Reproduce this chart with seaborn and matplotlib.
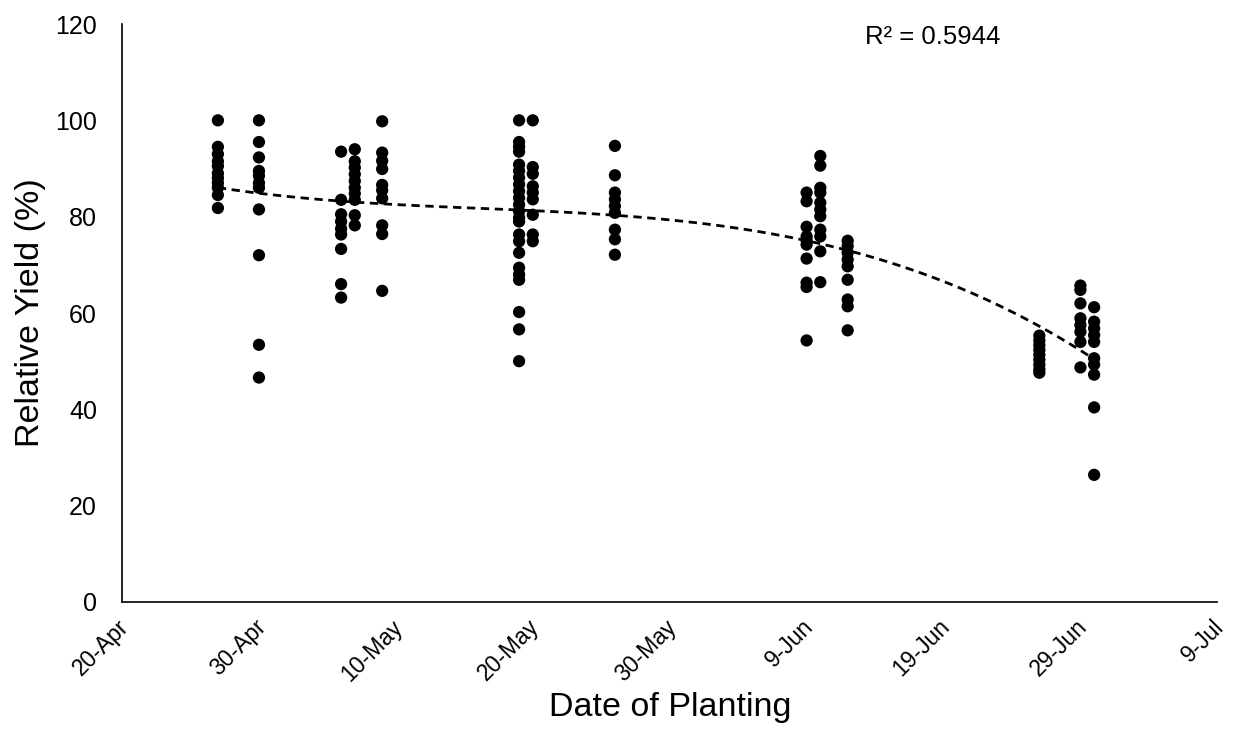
import numpy as np
import pandas as pd
import matplotlib
matplotlib.use("Agg")
import matplotlib.pyplot as plt
import matplotlib.transforms as mtransforms
import seaborn as sns

# Planting dates as day-of-year (20-Apr = 110)
tick_days = [110, 120, 130, 140, 150, 160, 170, 180, 190]
tick_labels = ["20-Apr", "30-Apr", "10-May", "20-May", "30-May", "9-Jun", "19-Jun", "29-Jun", "9-Jul"]

d117 = [100, 94.5, 93, 91.5, 90.5, 89, 88, 87, 86, 84.5, 81.8]
d120 = [100, 95.5, 92.3, 89.5, 88.5, 87, 86, 81.5, 72, 53.4, 46.6]
d126 = [93.5, 83.5, 80.5, 79, 77.5, 76.3, 73.3, 66, 63.2]
d127 = [94, 91.5, 90.2, 88.8, 87.4, 86, 84.8, 83.5, 80.3, 78.2]
d129 = [99.8, 93.3, 91.6, 89.9, 86.6, 85.5, 83.8, 78.2, 76.4, 64.6]
d139 = [100, 95.5, 94.5, 93.5, 90.8, 89.5, 88.1, 86.7, 85.3, 83.9, 82.5, 81.1,
        79.8, 79, 76.3, 74.9, 72.5, 69.4, 68.0, 66.9, 60.2, 56.6, 50]
d140 = [100, 90.3, 88.9, 86.3, 85, 83.6, 80.4, 76.3, 74.9]
d146 = [94.7, 88.6, 85, 83.6, 82.2, 80.8, 77.3, 75.3, 72.1]
d160 = [85, 83.2, 77.9, 75.9, 75.1, 74.2, 71.3, 66.3, 65.4, 54.3]
d161 = [92.6, 90.6, 86, 85, 82.9, 81.5, 80.1, 77.3, 75.9, 72.8, 66.4]
d163 = [75, 73.9, 72.5, 71.1, 69.7, 66.9, 62.8, 61.4, 56.4]
d177 = [55.3, 54.3, 53.3, 52.3, 51.3, 50.3, 49.3, 48.3, 47.6]
d180 = [65.7, 64.8, 62, 58.9, 57.5, 56.1, 54, 48.7]
d181 = [61.2, 58.2, 56.8, 55.4, 54, 50.6, 49.3, 47.2, 40.4, 26.4]

groups = {117: d117, 120: d120, 126: d126, 127: d127, 129: d129, 139: d139,
          140: d140, 146: d146, 160: d160, 161: d161, 163: d163, 177: d177,
          180: d180, 181: d181}

rows = [(day, v) for day, vals in groups.items() for v in vals]
df = pd.DataFrame(rows, columns=["day", "yield"])

sns.set_theme(style="white")
plt.rcParams['font.family'] = ['Liberation Sans', 'DejaVu Sans']

fig = plt.figure(figsize=(12.34, 7.32), dpi=100)
ax = fig.add_axes([0.0989, 0.1776, 0.8876, 0.7896])

sns.scatterplot(data=df, x="day", y="yield", color="black", s=78,
                edgecolor="none", ax=ax, zorder=2)
sns.regplot(data=df, x="day", y="yield", order=3, ci=None, scatter=False, ax=ax,
            line_kws=dict(color="black", lw=2, ls=(0, (3, 2)), zorder=3))

ax.set_xlim(110, 190)
ax.set_ylim(0, 120)
ax.set_xticks(tick_days)
ax.set_xticklabels(tick_labels, rotation=45, ha="right", rotation_mode="anchor")
ax.set_yticks(range(0, 121, 20))
ax.tick_params(axis="both", length=0, colors="black")
ax.tick_params(axis="y", pad=18, labelsize=18)
ax.tick_params(axis="x", pad=11, labelsize=16.5)

offset = mtransforms.ScaledTranslation(-5 / 100, 2 / 100, fig.dpi_scale_trans)
for lbl in ax.get_xticklabels():
    lbl.set_transform(lbl.get_transform() + offset)

for s in ["top", "right"]:
    ax.spines[s].set_visible(False)
for s in ["left", "bottom"]:
    ax.spines[s].set_color("black")
    ax.spines[s].set_linewidth(1.2)

ax.set_xlabel("Date of Planting", fontsize=24.5, color="black")
ax.set_ylabel("Relative Yield (%)", fontsize=24.5, color="black")
ax.yaxis.set_label_coords(-0.069, 0.5)
ax.xaxis.set_label_coords(0.5, -0.156)

ax.text(169.2, 117.3, "R² = 0.5944", fontsize=18.5, ha="center", va="center", color="black")

fig.savefig("out.png", dpi=100)
